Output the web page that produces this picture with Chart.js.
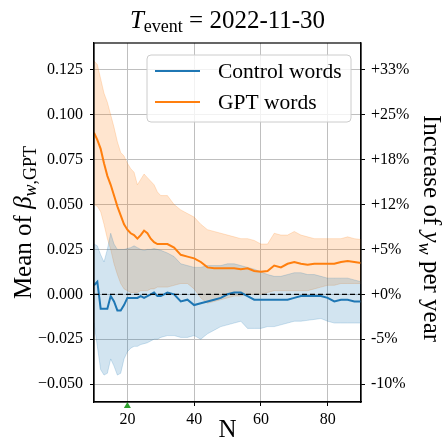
<!DOCTYPE html>
<html>
<head>
<meta charset="utf-8">
<script src="https://cdn.jsdelivr.net/npm/chart.js@4.4.1/dist/chart.umd.min.js"></script>
<style>
  html, body { margin: 0; padding: 0; background: #fff; }
  canvas { display: block; }
</style>
</head>
<body>
<canvas id="chart" width="448" height="442"></canvas>
<script>
// N values (number of words)
const nVals = [10, 11, 12, 13, 14, 15, 16, 17, 18, 19, 20, 21, 22, 23, 24, 25, 26, 27, 28, 29, 30,
  32, 34, 36, 38, 40, 42, 44, 46, 48, 50, 52, 54, 56, 58, 60, 62, 64, 66, 68, 70,
  72, 74, 76, 78, 80, 82, 84, 86, 88, 90];

// GPT words: mean and band
const gptMean = [0.090, 0.086, 0.081, 0.073, 0.066, 0.061, 0.055, 0.049, 0.044, 0.039, 0.036, 0.034, 0.033, 0.031, 0.033, 0.0355, 0.034, 0.031, 0.029, 0.028, 0.028,
  0.028, 0.026, 0.022, 0.021, 0.020, 0.018, 0.015, 0.0145, 0.0145, 0.0145, 0.0145, 0.014, 0.0145, 0.013, 0.0125, 0.013, 0.016, 0.015, 0.017, 0.018,
  0.017, 0.0165, 0.017, 0.017, 0.017, 0.017, 0.018, 0.0185, 0.018, 0.0175];
const gptUpper = [0.130, 0.128, 0.120, 0.112, 0.107, 0.100, 0.093, 0.085, 0.079, 0.077, 0.073, 0.070, 0.068, 0.061, 0.064, 0.067, 0.065, 0.063, 0.061, 0.057, 0.055,
  0.055, 0.050, 0.047, 0.045, 0.043, 0.039, 0.036, 0.035, 0.034, 0.033, 0.032, 0.031, 0.031, 0.030, 0.028, 0.028, 0.034, 0.033, 0.033, 0.035,
  0.033, 0.032, 0.031, 0.031, 0.031, 0.031, 0.031, 0.032, 0.031, 0.0305];
const gptLower = [0.050, 0.049, 0.046, 0.039, 0.031, 0.025, 0.017, 0.011, 0.006, 0.003, 0.002, 0.001, 0.001, 0.001, 0.002, 0.002, 0.002, 0.003, 0.003, 0.004, 0.004,
  0.004, 0.005, 0.006, 0.006, 0.003, -0.002, -0.005, -0.004, -0.003, -0.002, -0.001, -0.001, 0.000, 0.000, 0.000, 0.001, 0.002, 0.002, 0.002, 0.002,
  0.002, 0.002, 0.003, 0.004, 0.005, 0.005, 0.006, 0.006, 0.006, 0.006];

// Control words: mean and band
const ctrlMean = [0.005, 0.007, -0.008, -0.008, -0.008, -0.001, -0.004, -0.009, -0.009, -0.006, -0.002, -0.002, -0.002, -0.002, -0.001, -0.002, -0.001, 0.000, 0.001, -0.001, -0.001,
  0.001, 0.000, -0.004, -0.003, -0.006, -0.005, -0.004, -0.003, -0.002, 0.000, 0.001, 0.001, -0.001, -0.003, -0.003, -0.003, -0.003, -0.003, -0.003, -0.002,
  -0.001, -0.001, -0.001, -0.001, -0.002, -0.004, -0.003, -0.003, -0.004, -0.004];
const ctrlUpper = [0.028, 0.027, 0.022, 0.018, 0.025, 0.034, 0.028, 0.025, 0.025, 0.025, 0.0255, 0.026, 0.027, 0.026, 0.025, 0.0245, 0.025, 0.025, 0.0255, 0.025, 0.0245,
  0.023, 0.021, 0.017, 0.016, 0.015, 0.015, 0.016, 0.016, 0.016, 0.017, 0.017, 0.016, 0.015, 0.014, 0.0125, 0.011, 0.010, 0.010, 0.011, 0.012,
  0.012, 0.011, 0.011, 0.010, 0.009, 0.009, 0.009, 0.009, 0.008, 0.007];
const ctrlLower = [-0.016, -0.029, -0.042, -0.045, -0.044, -0.036, -0.040, -0.045, -0.044, -0.036, -0.032, -0.030, -0.029, -0.029, -0.028, -0.0275, -0.027, -0.026, -0.025, -0.025, -0.024,
  -0.023, -0.023, -0.024, -0.024, -0.023, -0.025, -0.022, -0.020, -0.018, -0.017, -0.016, -0.015, -0.019, -0.019, -0.019, -0.018, -0.018, -0.017, -0.016, -0.015,
  -0.015, -0.0145, -0.014, -0.0135, -0.015, -0.016, -0.016, -0.016, -0.016, -0.016];

// axes
const xTicks = [20, 40, 60, 80];
const yTicks = [-0.05, -0.025, 0, 0.025, 0.05, 0.075, 0.1, 0.125];
const rightTickLabels = ['-10%', '-5%', '+0%', '+5%', '+12%', '+18%', '+25%', '+33%'];
const eventN = 20;

const BLUE = '#1f77b4';
const ORANGE = '#ff7f0e';
const SERIF = '"Liberation Serif", "DejaVu Serif", serif';

function pts(arr) {
  return nVals.map((n, i) => ({ x: n, y: arr[i] }));
}

function band(arr, rgb, fill) {
  return {
    data: pts(arr),
    borderColor: `rgba(${rgb},0.2)`,
    backgroundColor: `rgba(${rgb},0.2)`,
    borderWidth: 1,
    pointRadius: 0,
    fill: fill,
    order: 5
  };
}

// draws text made of several pieces (for subscripts / italics)
function drawRich(ctx, parts, cx, cy, rot) {
  ctx.save();
  ctx.translate(cx, cy);
  ctx.rotate(rot);
  ctx.textBaseline = 'alphabetic';
  ctx.fillStyle = '#000';
  let total = 0;
  parts.forEach(p => { ctx.font = p.font; total += ctx.measureText(p.t).width; });
  let x = -total / 2;
  parts.forEach(p => {
    ctx.font = p.font;
    ctx.textAlign = 'left';
    ctx.fillText(p.t, x, p.dy || 0);
    x += ctx.measureText(p.t).width;
  });
  ctx.restore();
}

const decorations = {
  id: 'decorations',
  afterDraw(chart) {
    const ctx = chart.ctx;
    const a = chart.chartArea;
    const xs = chart.scales.x;

    // frame
    ctx.save();
    ctx.strokeStyle = '#000';
    ctx.lineWidth = 1.2;
    ctx.strokeRect(a.left, a.top, a.right - a.left, a.bottom - a.top);
    ctx.restore();

    // event marker
    const mx = xs.getPixelForValue(eventN);
    ctx.save();
    ctx.fillStyle = '#2ca02c';
    ctx.beginPath();
    ctx.moveTo(mx, a.bottom);
    ctx.lineTo(mx + 3.5, a.bottom + 6);
    ctx.lineTo(mx - 3.5, a.bottom + 6);
    ctx.closePath();
    ctx.fill();
    ctx.restore();

    // legend
    ctx.save();
    const lx = 147, ly = 55, lw = 204, lh = 67, r = 4;
    ctx.beginPath();
    ctx.roundRect(lx, ly, lw, lh, r);
    ctx.fillStyle = 'rgba(255,255,255,0.8)';
    ctx.fill();
    ctx.strokeStyle = '#cccccc';
    ctx.lineWidth = 1;
    ctx.stroke();
    const entries = [['Control words', BLUE, 71], ['GPT words', ORANGE, 102]];
    entries.forEach(([label, col, y]) => {
      ctx.strokeStyle = col;
      ctx.lineWidth = 2;
      ctx.beginPath();
      ctx.moveTo(155, y);
      ctx.lineTo(200, y);
      ctx.stroke();
      ctx.fillStyle = '#000';
      ctx.font = '21.5px ' + SERIF;
      ctx.textBaseline = 'middle';
      ctx.textAlign = 'left';
      ctx.fillText(label, 218, y + 1);
    });
    ctx.restore();

    const cxPlot = (a.left + a.right) / 2;
    const cyPlot = (a.top + a.bottom) / 2;

    // title
    drawRich(ctx, [
      { t: 'T', font: 'italic 25px ' + SERIF },
      { t: 'event', font: '18px ' + SERIF, dy: 4 },
      { t: ' = 2022-11-30', font: '25px ' + SERIF }
    ], cxPlot, 28, 0);

    // x label
    drawRich(ctx, [{ t: 'N', font: '25px ' + SERIF }], cxPlot, 437, 0);

    // left label
    drawRich(ctx, [
      { t: 'Mean of ', font: '25px ' + SERIF },
      { t: 'β', font: 'italic 25px ' + SERIF },
      { t: 'w', font: 'italic 18px ' + SERIF, dy: 5 },
      { t: ',GPT', font: '18px ' + SERIF, dy: 5 }
    ], 31, cyPlot, -Math.PI / 2);

    // right label
    drawRich(ctx, [
      { t: 'Increase of ', font: '25px ' + SERIF },
      { t: 'y', font: 'italic 25px ' + SERIF },
      { t: 'w', font: 'italic 18px ' + SERIF, dy: 5 },
      { t: ' per year', font: '25px ' + SERIF }
    ], 424, cyPlot + 6, Math.PI / 2);
  }
};

const tickFont = { family: SERIF, size: 16 };
const GRID = '#bfbfbf';

new Chart(document.getElementById('chart').getContext('2d'), {
  type: 'line',
  data: {
    datasets: [
      {
        data: [{ x: nVals[0], y: 0 }, { x: nVals[nVals.length - 1], y: 0 }],
        borderColor: '#000',
        borderWidth: 1.3,
        borderDash: [5, 3],
        pointRadius: 0,
        fill: false,
        order: 0
      },
      {
        label: 'Control words',
        data: pts(ctrlMean),
        borderColor: BLUE,
        borderWidth: 2,
        pointRadius: 0,
        fill: false,
        order: 1
      },
      {
        label: 'GPT words',
        data: pts(gptMean),
        borderColor: ORANGE,
        borderWidth: 2,
        pointRadius: 0,
        fill: false,
        order: 1
      },
      band(ctrlUpper, '31,119,180', '+1'),
      band(ctrlLower, '31,119,180', false),
      band(gptUpper, '255,127,14', '+1'),
      band(gptLower, '255,127,14', false)
    ]
  },
  options: {
    responsive: false,
    animation: false,
    layout: { padding: { top: 43, left: 0, right: 0, bottom: 0 } },
    plugins: {
      legend: { display: false },
      title: { display: false },
      tooltip: { enabled: false }
    },
    scales: {
      x: {
        type: 'linear',
        min: 10,
        max: 90,
        afterBuildTicks: s => { s.ticks = xTicks.map(v => ({ value: v })); },
        afterFit: s => { s.height = 40; },
        ticks: { font: tickFont, color: '#000', padding: 4, callback: v => String(v) },
        grid: { color: GRID, lineWidth: 1, tickColor: '#000', tickLength: 4 },
        border: { display: true, color: '#000', width: 1.2 }
      },
      y: {
        position: 'left',
        min: -0.06,
        max: 0.14,
        afterBuildTicks: s => { s.ticks = yTicks.map(v => ({ value: v })); },
        afterFit: s => { s.width = 94; },
        ticks: {
          font: tickFont,
          color: '#000',
          padding: 7,
          callback: v => (v < 0 ? '\u2212' : '') + Math.abs(v).toFixed(3)
        },
        grid: { color: GRID, lineWidth: 1, tickColor: '#000', tickLength: 4 },
        border: { display: true, color: '#000', width: 1.2 }
      },
      y2: {
        position: 'right',
        min: -0.06,
        max: 0.14,
        afterBuildTicks: s => { s.ticks = yTicks.map(v => ({ value: v })); },
        afterFit: s => { s.width = 87; },
        ticks: {
          font: tickFont,
          color: '#000',
          padding: 6,
          callback: (v, i) => rightTickLabels[i]
        },
        grid: { drawOnChartArea: false, tickColor: '#000', tickLength: 4 },
        border: { display: true, color: '#000', width: 1.2 }
      }
    }
  },
  plugins: [decorations]
});
</script>
</body>
</html>
